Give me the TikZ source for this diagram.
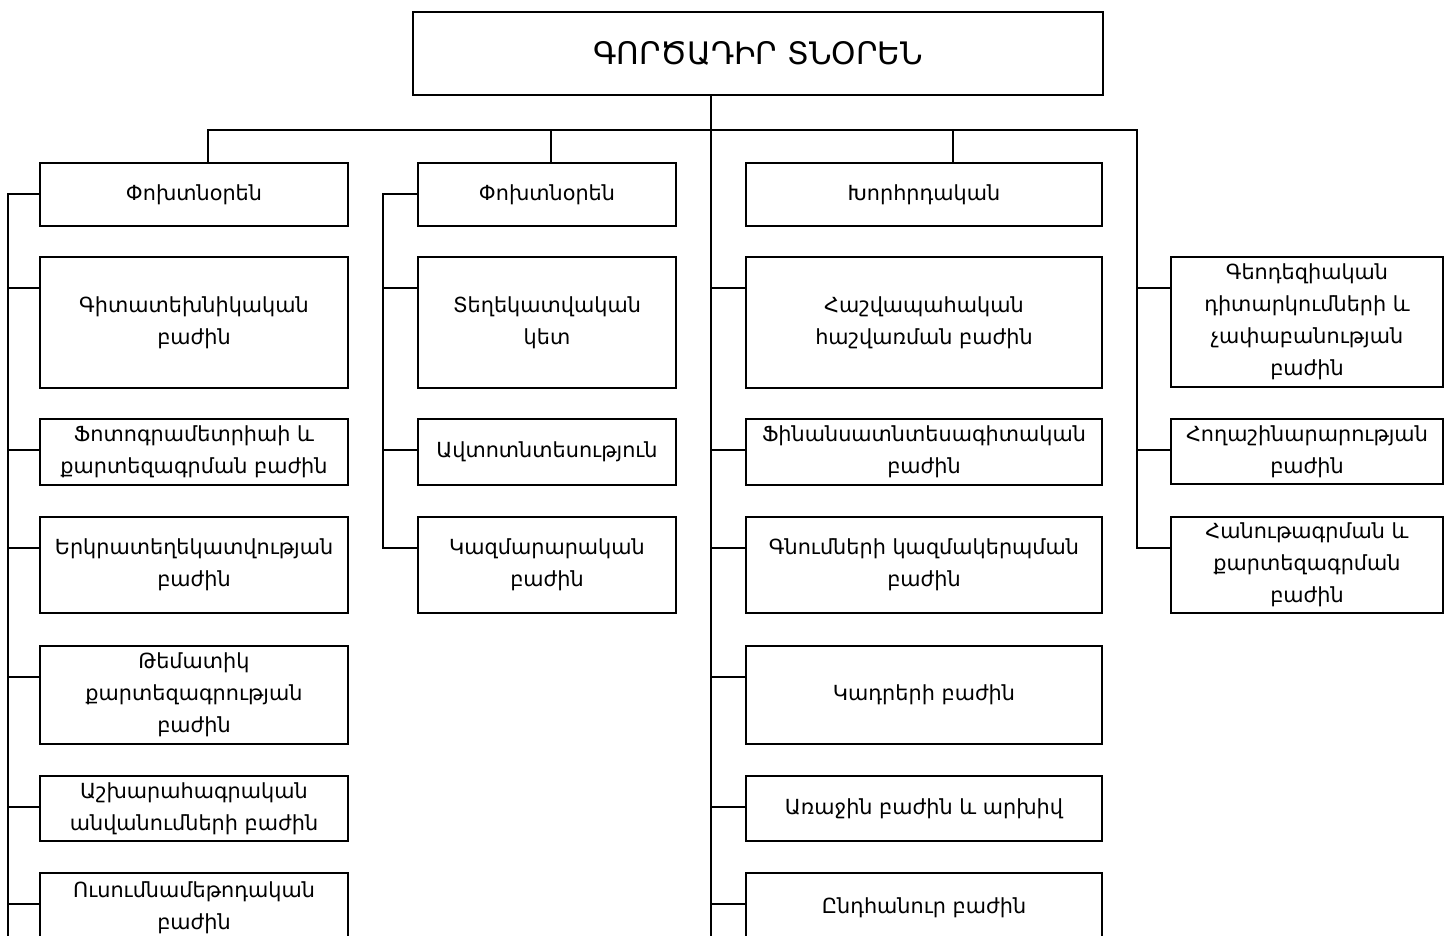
\documentclass[tikz,border=0pt]{standalone}
\usepackage{fontspec}
\setmainfont{DejaVu Sans}
\tikzset{
  box/.style={draw, line width=1.6pt, rectangle, align=center, inner sep=0pt, font=\fontsize{20.8}{32}\selectfont},
  titlebox/.style={box, font=\fontsize{31}{36}\selectfont},
  conn/.style={line width=1.6pt},
}
\begin{document}
\begin{tikzpicture}[x=1pt,y=-1pt]
\useasboundingbox (0,0) rectangle (1449,936);
\fill[white] (0,0) rectangle (1449,936);
% title
\node[titlebox, minimum width=690pt, minimum height=83pt] (t) at (758,53.5) {ԳՈՐԾԱԴԻՐ ՏՆՕՐԵՆ};
% column 1
\node[box, minimum width=308pt, minimum height=63pt]  (a0) at (194,194.5) {Փոխտնօրեն};
\node[box, minimum width=308pt, minimum height=131pt] (a1) at (194,322.5) {Գիտատեխնիկական\\բաժին};
\node[box, minimum width=308pt, minimum height=66pt]  (a2) at (194,452) {Ֆոտոգրամետրիաի և\\քարտեզագրման բաժին};
\node[box, minimum width=308pt, minimum height=96pt]  (a3) at (194,565) {Երկրատեղեկատվության\\բաժին};
\node[box, minimum width=308pt, minimum height=98pt]  (a4) at (194,695) {Թեմատիկ\\քարտեզագրության\\բաժին};
\node[box, minimum width=308pt, minimum height=65pt]  (a5) at (194,808.5) {Աշխարահագրական\\անվանումների բաժին};
\node[box, minimum width=308pt, minimum height=70pt]  (a6) at (194,908) {Ուսումնամեթոդական\\բաժին};
% column 2
\node[box, minimum width=258pt, minimum height=63pt]  (b0) at (547,194.5) {Փոխտնօրեն};
\node[box, minimum width=258pt, minimum height=131pt] (b1) at (547,322.5) {Տեղեկատվական\\կետ};
\node[box, minimum width=258pt, minimum height=66pt]  (b2) at (547,452) {Ավտոտնտեսություն};
\node[box, minimum width=258pt, minimum height=96pt]  (b3) at (547,565) {Կազմարարական\\բաժին};
% column 3
\node[box, minimum width=356pt, minimum height=63pt]  (c0) at (924,194.5) {Խորհրդական};
\node[box, minimum width=356pt, minimum height=131pt] (c1) at (924,322.5) {Հաշվապահական\\հաշվառման բաժին};
\node[box, minimum width=356pt, minimum height=66pt]  (c2) at (924,452) {Ֆինանսատնտեսագիտական\\բաժին};
\node[box, minimum width=356pt, minimum height=96pt]  (c3) at (924,565) {Գնումների կազմակերպման\\բաժին};
\node[box, minimum width=356pt, minimum height=98pt]  (c4) at (924,695) {Կադրերի բաժին};
\node[box, minimum width=356pt, minimum height=65pt]  (c5) at (924,808.5) {Առաջին բաժին և արխիվ};
\node[box, minimum width=356pt, minimum height=70pt]  (c6) at (924,908) {Ընդհանուր բաժին};
% column 4
\node[box, minimum width=272pt, minimum height=130pt] (d0) at (1307,322) {Գեոդեզիական\\դիտարկումների և\\չափաբանության\\բաժին};
\node[box, minimum width=272pt, minimum height=65pt]  (d1) at (1307,451.5) {Հողաշինարարության\\բաժին};
\node[box, minimum width=272pt, minimum height=96pt]  (d2) at (1307,565) {Հանութագրման և\\քարտեզագրման\\բաժին};
% reference coordinates
\coordinate (T1) at (8,0);
\coordinate (T2) at (383,0);
\coordinate (T3) at ([xshift=-47pt]t.south);
\coordinate (T4) at (1137,0);
\coordinate (bus) at (0,130);
\coordinate (B) at (0,945);
% title stem / column 3 trunk
\draw[conn] (T3) -- (T3 |- B);
% bus and column 4 trunk
\draw[conn] ([xshift=14pt]a0.north) |- (bus -| T4) |- ([yshift=-32pt]d2.north west);
\draw[conn] ([xshift=4pt]b0.north) -- ([xshift=4pt]b0.north |- bus);
\draw[conn] ([xshift=29pt]c0.north) -- ([xshift=29pt]c0.north |- bus);
% column 1
\draw[conn] ([yshift=-32pt]a0.north west) -| (T1 |- B);
\foreach \n in {a1,a2,a3,a4,a5,a6}
  \draw[conn] ([yshift=-32pt]\n.north west) -- ([yshift=-32pt]\n.north west -| T1);
% column 2
\draw[conn] ([yshift=-32pt]b0.north west) -| ([yshift=-32pt]b3.north west -| T2) -- ([yshift=-32pt]b3.north west);
\foreach \n in {b1,b2}
  \draw[conn] ([yshift=-32pt]\n.north west) -- ([yshift=-32pt]\n.north west -| T2);
% column 3
\foreach \n in {c1,c2,c3,c4,c5,c6}
  \draw[conn] ([yshift=-32pt]\n.north west) -- ([yshift=-32pt]\n.north west -| T3);
% column 4
\foreach \n in {d0,d1}
  \draw[conn] ([yshift=-32pt]\n.north west) -- ([yshift=-32pt]\n.north west -| T4);
\end{tikzpicture}
\end{document}
